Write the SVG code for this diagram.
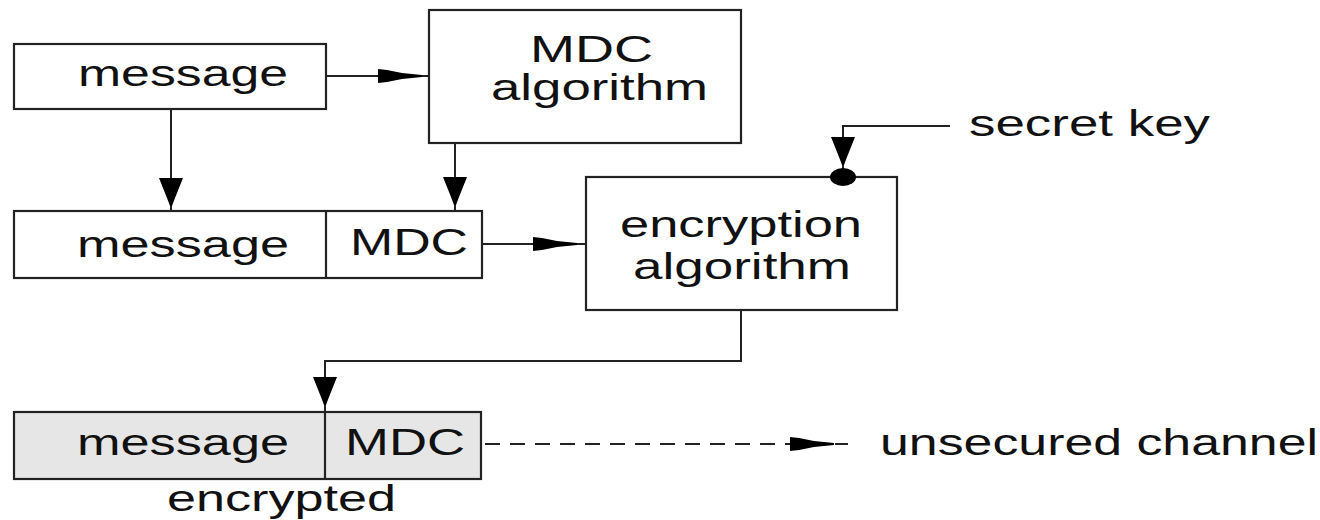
<svg xmlns="http://www.w3.org/2000/svg" xmlns:xlink="http://www.w3.org/1999/xlink" width="1320" height="520" viewBox="0 0 1320 520">
<style>
.box{fill:#ffffff;stroke:#222222;stroke-width:2.2}
.grey{fill:#e6e6e6}
.ln{fill:none;stroke:#222222;stroke-width:2}
.dash{stroke-dasharray:15 10}
.ah{fill:#000000}
text{font-family:"Liberation Sans",Arial,sans-serif;font-size:36px;fill:#111111}
</style>
<defs>
<path id="ahH" d="M0,-7 L9,-6 L24,-3 L44,-1 L44,1 L24,3 L9,6 L0,7 Z"/>
<path id="ahV" d="M-12,0 L12,0 L8,10 L4,20 L1,28 L-1,28 L-4,20 L-8,10 Z"/>
</defs>
<rect width="1320" height="520" fill="#ffffff"/>

<g id="message1">
<rect class="box" x="14" y="44" width="312" height="65"/>
<text x="78" y="86" textLength="210" lengthAdjust="spacingAndGlyphs">message</text>
</g>

<g id="mdc-algorithm">
<rect class="box" x="429" y="10" width="312" height="133"/>
<text x="530" y="62" textLength="123" lengthAdjust="spacingAndGlyphs">MDC</text>
<text x="491" y="100" textLength="217" lengthAdjust="spacingAndGlyphs">algorithm</text>
</g>

<g id="message-mdc">
<rect class="box" x="14" y="211" width="468" height="67"/>
<line class="box" x1="326" y1="211" x2="326" y2="278"/>
<text x="77" y="257" textLength="212" lengthAdjust="spacingAndGlyphs">message</text>
<text x="350" y="255" textLength="118" lengthAdjust="spacingAndGlyphs">MDC</text>
</g>

<g id="encryption-algorithm">
<rect class="box" x="586" y="177" width="311" height="133"/>
<text x="620" y="237" textLength="242" lengthAdjust="spacingAndGlyphs">encryption</text>
<text x="633" y="279" textLength="218" lengthAdjust="spacingAndGlyphs">algorithm</text>
</g>

<g id="secret-key">
<text x="969" y="136" textLength="241" lengthAdjust="spacingAndGlyphs">secret key</text>
</g>

<g id="encrypted-message">
<rect class="box grey" x="14" y="412" width="467" height="67"/>
<line class="box" x1="325" y1="412" x2="325" y2="479"/>
<text x="77" y="455" textLength="212" lengthAdjust="spacingAndGlyphs">message</text>
<text x="345" y="455" textLength="120" lengthAdjust="spacingAndGlyphs">MDC</text>
<text x="167" y="511" textLength="229" lengthAdjust="spacingAndGlyphs">encrypted</text>
</g>

<g id="unsecured-channel">
<text x="880" y="455" textLength="438" lengthAdjust="spacingAndGlyphs">unsecured channel</text>
</g>

<g id="connectors">
<line class="ln" x1="326" y1="76" x2="429" y2="76"/>
<use xlink:href="#ahH" class="ah" transform="translate(378,76)"/>
<line class="ln" x1="171" y1="109" x2="171" y2="211"/>
<use xlink:href="#ahV" class="ah" transform="translate(171,178)"/>
<line class="ln" x1="455" y1="143" x2="455" y2="211"/>
<use xlink:href="#ahV" class="ah" transform="translate(455,177)"/>
<line class="ln" x1="482" y1="244" x2="586" y2="244"/>
<use xlink:href="#ahH" class="ah" transform="translate(533,244)"/>
<polyline class="ln" points="950,126 843,126 843,177"/>
<use xlink:href="#ahV" class="ah" transform="translate(843,137)"/>
<ellipse cx="843" cy="177" rx="13" ry="9" class="ah"/>
<polyline class="ln" points="741,310 741,361 325,361 325,412"/>
<use xlink:href="#ahV" class="ah" transform="translate(325,377)"/>
<line class="ln dash" x1="485" y1="444" x2="848" y2="444"/>
<use xlink:href="#ahH" class="ah" transform="translate(790,444)"/>
</g>
</svg>
